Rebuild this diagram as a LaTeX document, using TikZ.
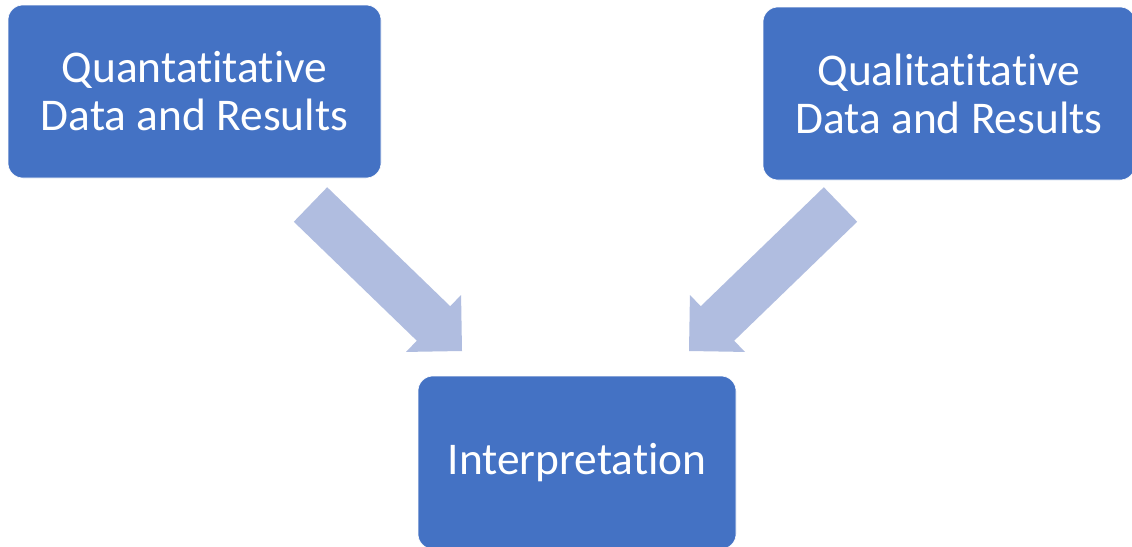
\documentclass[tikz,border=0pt]{standalone}
\usepackage{fontspec}
\setmainfont{Carlito}[RawFeature={-liga}]
\usetikzlibrary{calc}
\definecolor{boxblue}{RGB}{68,114,196}
\definecolor{arrowblue}{RGB}{176,189,224}
\tikzset{
  databox/.style={rectangle, rounded corners=15pt, fill=boxblue, draw=white,
    line width=0.6pt, text=white, align=center,
    font=\fontsize{45.4pt}{48pt}\selectfont, inner sep=0pt},
  blockarrow/.style={fill=arrowblue, draw=none}
}
% block arrow from tail centre #1 to tip #2
\newcommand{\blockarrowfromto}[2]{%
  \coordinate (hb) at ($(#2)!39.6pt!(#1)$);
  \fill[blockarrow]
    ($(#1)!24pt!90:(#2)$) -- ($(hb)!24pt!-90:(#1)$) -- ($(hb)!39.6pt!-90:(#1)$)
    -- (#2) -- ($(hb)!39.6pt!90:(#1)$) -- ($(hb)!24pt!90:(#1)$)
    -- ($(#1)!24pt!-90:(#2)$) -- cycle;
}
\begin{document}
\begin{tikzpicture}[x=1pt,y=-1pt]
  \useasboundingbox (0,0) rectangle (1132,546);
  \fill[white] (0,0) rectangle (1132,546);

  \node[databox, minimum width=373pt, minimum height=173pt] (quant) at (194.5,91.5)
    {Quantatitative\\Data and Results};
  \node[databox, minimum width=372pt, minimum height=173pt] (qual) at (949,93.5)
    {Qualitatitative\\Data and Results};
  \node[databox, minimum width=318pt, minimum height=173pt] (interp) at (577,462.5)
    {Interpretation};

  \coordinate (ltail) at (310.5,204.5);
  \coordinate (ltip)  at (462,351);
  \coordinate (rtail) at (840.5,204.5);
  \coordinate (rtip)  at (689,351);
  \blockarrowfromto{ltail}{ltip}
  \blockarrowfromto{rtail}{rtip}
\end{tikzpicture}
\end{document}
